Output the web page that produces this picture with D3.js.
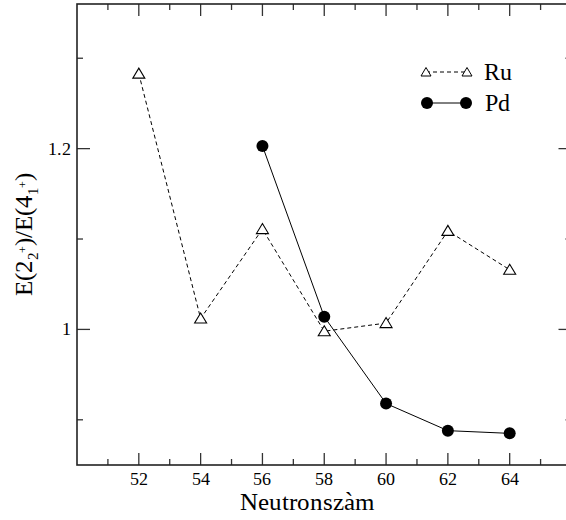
<!DOCTYPE html>
<html>
<head>
<meta charset="utf-8">
<script src="https://cdn.jsdelivr.net/npm/d3@7"></script>
<style>
  @font-face { font-family: "SerifGraphe"; src: local("Liberation Serif"), local("LiberationSerif"), local("Times New Roman"); }
  body { margin: 0; background: #fff; }
</style>
</head>
<body>
<script>
// données
let neutronsRu = [52, 54, 56, 58, 60, 62, 64]
let ratioRu = [1.283, 1.012, 1.111, 0.998, 1.007, 1.109, 1.066]
let neutronsPd = [56, 58, 60, 62, 64]
let ratioPd = [1.203, 1.014, 0.918, 0.888, 0.885]

let xMajor = [52, 54, 56, 58, 60, 62, 64]
let xMinor = [51, 53, 55, 57, 59, 61, 63, 65]
let yMajor = [1, 1.2]
let yMinor = [0.9, 1.1, 1.3]
let yLabels = ["1", "1.2"]

let width = 566, height = 520
let gauche = 77, droite = 571.5, haut = 4, bas = 465
let police = "SerifGraphe, 'Liberation Serif', 'Times New Roman', serif"

let svg = d3.select("body").append("svg")
    .attr("width", width)
    .attr("height", height)
    .style("display", "block")

let x = d3.scaleLinear().domain([50, 66]).range([gauche, droite])
let y = d3.scaleLinear().domain([0.85, 1.36]).range([bas, haut])

// ticks (4 côtés, vers l'intérieur)
let gTicks = svg.append("g").attr("stroke", "#333").attr("stroke-width", 1.3)
xMajor.forEach(v => {
    gTicks.append("line").attr("x1", x(v)).attr("x2", x(v)).attr("y1", bas).attr("y2", bas - 12)
    gTicks.append("line").attr("x1", x(v)).attr("x2", x(v)).attr("y1", haut).attr("y2", haut + 12)
})
xMinor.forEach(v => {
    gTicks.append("line").attr("x1", x(v)).attr("x2", x(v)).attr("y1", bas).attr("y2", bas - 6)
    gTicks.append("line").attr("x1", x(v)).attr("x2", x(v)).attr("y1", haut).attr("y2", haut + 6)
})
yMajor.forEach(v => {
    gTicks.append("line").attr("y1", y(v)).attr("y2", y(v)).attr("x1", gauche).attr("x2", gauche + 13)
    gTicks.append("line").attr("y1", y(v)).attr("y2", y(v)).attr("x1", droite).attr("x2", droite - 13)
})
yMinor.forEach(v => {
    gTicks.append("line").attr("y1", y(v)).attr("y2", y(v)).attr("x1", gauche).attr("x2", gauche + 6)
    gTicks.append("line").attr("y1", y(v)).attr("y2", y(v)).attr("x1", droite).attr("x2", droite - 6)
})

// cadre
svg.append("rect")
    .attr("x", gauche).attr("y", haut)
    .attr("width", droite - gauche).attr("height", bas - haut)
    .attr("fill", "none").attr("stroke", "#222").attr("stroke-width", 1.6)

// labels des ticks
svg.selectAll(".xlab").data(xMajor).enter().append("text")
    .attr("x", d => x(d)).attr("y", bas + 20)
    .attr("text-anchor", "middle")
    .style("font-family", police).style("font-size", "18px")
    .text(d => d)
svg.selectAll(".ylab").data(yMajor).enter().append("text")
    .attr("x", gauche - 6).attr("y", d => y(d) + 6)
    .attr("text-anchor", "end")
    .style("font-family", police).style("font-size", "18px")
    .text((d, i) => yLabels[i])

// titres des axes
svg.append("text")
    .attr("x", 307).attr("y", 510)
    .attr("text-anchor", "middle")
    .style("font-family", police).style("font-size", "25px")
    .text("Neutronszàm")

let ylab = svg.append("text")
    .attr("transform", "translate(32," + 234 + ") rotate(-90)")
    .attr("text-anchor", "middle")
    .style("font-family", police).style("font-size", "25px")
ylab.append("tspan").text("E(2")
ylab.append("tspan").style("font-size", "15px").attr("dy", 6).text("2")
ylab.append("tspan").style("font-size", "12px").attr("dx", -1).attr("dy", -11).text("+")
ylab.append("tspan").attr("dy", 5).text(")/E(4")
ylab.append("tspan").style("font-size", "15px").attr("dy", 6).text("1")
ylab.append("tspan").style("font-size", "12px").attr("dx", -1).attr("dy", -11).text("+")
ylab.append("tspan").attr("dy", 5).text(")")

// lignes
let ligne = d3.line().x(d => x(d[0])).y(d => y(d[1]))
let ru = neutronsRu.map((n, i) => [n, ratioRu[i]])
let pd = neutronsPd.map((n, i) => [n, ratioPd[i]])

svg.append("path").datum(ru).attr("d", ligne)
    .attr("fill", "none").attr("stroke", "#000").attr("stroke-width", 1)
    .attr("stroke-dasharray", "4,3")
svg.append("path").datum(pd).attr("d", ligne)
    .attr("fill", "none").attr("stroke", "#000").attr("stroke-width", 1)

// symboles
let triangle = "M0,-5.5L6,4.5L-6,4.5Z"
svg.selectAll(".tri").data(ru).enter().append("path")
    .attr("d", triangle)
    .attr("transform", d => "translate(" + x(d[0]) + "," + y(d[1]) + ")")
    .attr("fill", "#fff").attr("stroke", "#000").attr("stroke-width", 1.1)
svg.selectAll(".rond").data(pd).enter().append("circle")
    .attr("cx", d => x(d[0])).attr("cy", d => y(d[1])).attr("r", 6)
    .attr("fill", "#000")

// légende
let leg = svg.append("g")
leg.append("line").attr("x1", 426).attr("x2", 467).attr("y1", 72).attr("y2", 72)
    .attr("stroke", "#000").attr("stroke-dasharray", "4,3")
;[426, 467].forEach(px => {
    leg.append("path").attr("d", "M0,-4.5L5,4L-5,4Z")
        .attr("transform", "translate(" + px + ",72)")
        .attr("fill", "#fff").attr("stroke", "#000").attr("stroke-width", 1)
})
leg.append("text").attr("x", 484).attr("y", 80)
    .style("font-family", police).style("font-size", "24px").text("Ru")
leg.append("line").attr("x1", 427).attr("x2", 466).attr("y1", 103).attr("y2", 103)
    .attr("stroke", "#000")
;[427, 466].forEach(px => {
    leg.append("circle").attr("cx", px).attr("cy", 103).attr("r", 6).attr("fill", "#000")
})
leg.append("text").attr("x", 485).attr("y", 111)
    .style("font-family", police).style("font-size", "24px").text("Pd")
</script>
</body>
</html>
